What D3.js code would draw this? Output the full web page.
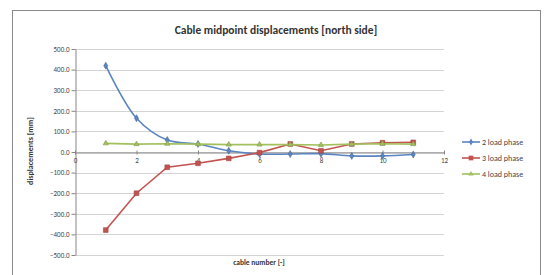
<!DOCTYPE html>
<html>
<head>
<meta charset="utf-8">
<script src="https://cdn.jsdelivr.net/npm/d3@7"></script>
<style>
  body { margin: 0; background: #fff; }
  text { font-family: Carlito, "Liberation Sans", Arial, sans-serif; }
</style>
</head>
<body>
<div id="chart"></div>
<script>
// cable numbers and displacement values
var cables = [1, 2, 3, 4, 5, 6, 7, 8, 9, 10, 11];
var phase2 = [419, 164, 58, 39, 6, -10, -10, -8, -19, -19, -12];
var phase3 = [-379, -200, -74, -55, -31, -3, 39, 6, 39, 45, 47];
var phase4 = [42, 38, 40, 38, 36, 36, 36, 34, 38, 40, 38];
var seriesNames = ["2 load phase", "3 load phase", "4 load phase"];
var xTicks = [0, 2, 4, 6, 8, 10, 12];
var yTicks = [500, 400, 300, 200, 100, 0, -100, -200, -300, -400, -500];

var W = 546, H = 275;
var svg = d3.select("#chart").append("svg")
  .attr("width", W)
  .attr("height", H);

// chart frame
svg.append("rect")
  .attr("x", 12.5).attr("y", 10.5)
  .attr("width", 528).attr("height", 280)
  .attr("fill", "#fff")
  .attr("stroke", "#8a8a8a")
  .attr("stroke-width", 1);

var x = d3.scaleLinear().domain([0, 12]).range([75, 444]);
var y = d3.scaleLinear().domain([-500, 500]).range([255, 49]);

// gridlines
svg.append("g").selectAll("line")
  .data(yTicks)
  .enter().append("line")
  .attr("x1", x(0)).attr("x2", x(12))
  .attr("y1", function(d){ return Math.round(y(d)) + 0.5; })
  .attr("y2", function(d){ return Math.round(y(d)) + 0.5; })
  .attr("stroke", "#d4d4d4")
  .attr("stroke-width", 1);

// y axis
var yAxis = svg.append("g")
  .attr("transform", "translate(" + (x(0) + 0.5) + ",0)")
  .call(d3.axisLeft(y).tickValues(yTicks).tickSize(4).tickSizeOuter(0)
    .tickFormat(function(d){ return d3.format(".1f")(d); }));
yAxis.select(".domain").attr("stroke", "#868686");
yAxis.selectAll(".tick line").attr("stroke", "#868686");
yAxis.selectAll("text").attr("font-size", "7px").attr("fill", "#444").attr("x", -6);

// x axis crossing at zero
var xAxis = svg.append("g")
  .attr("transform", "translate(0," + (Math.round(y(0)) + 0.5) + ")")
  .call(d3.axisBottom(x).tickValues(xTicks).tickSize(4).tickSizeOuter(0));
xAxis.select(".domain").attr("stroke", "#868686");
xAxis.selectAll(".tick line").attr("stroke", "#868686").attr("y1", -2).attr("y2", 2);
xAxis.selectAll("text").attr("font-size", "7px").attr("fill", "#444").attr("y", 6);

// titles
svg.append("text")
  .attr("x", 276).attr("y", 34)
  .attr("text-anchor", "middle")
  .attr("font-size", "11.5px").attr("font-weight", "bold").attr("fill", "#333")
  .text("Cable midpoint displacements [north side]");

svg.append("text")
  .attr("transform", "translate(33,151) rotate(-90)")
  .attr("text-anchor", "middle")
  .attr("font-size", "8px").attr("font-weight", "bold").attr("fill", "#333")
  .text("displacements [mm]");

svg.append("text")
  .attr("x", 259).attr("y", 265)
  .attr("text-anchor", "middle")
  .attr("font-size", "7.5px").attr("font-weight", "bold").attr("fill", "#333")
  .text("cable number [-]");

// series
var series = [
  { name: seriesNames[0], values: phase2, color: "#5a85c0", marker: d3.symbolDiamond, size: 14, curve: d3.curveCatmullRom.alpha(0.5) },
  { name: seriesNames[1], values: phase3, color: "#c4534f", marker: d3.symbolSquare, size: 22, curve: d3.curveLinear },
  { name: seriesNames[2], values: phase4, color: "#a2c05e", marker: d3.symbolTriangle, size: 12, curve: d3.curveLinear }
];

series.forEach(function(s){
  var pts = cables.map(function(c, i){ return [c, s.values[i]]; });
  var line = d3.line()
    .x(function(d){ return x(d[0]); })
    .y(function(d){ return y(d[1]); })
    .curve(s.curve);
  svg.append("path")
    .attr("d", line(pts))
    .attr("fill", "none")
    .attr("stroke", s.color)
    .attr("stroke-width", 1.6);
  svg.append("g").selectAll("path")
    .data(pts)
    .enter().append("path")
    .attr("transform", function(d){ return "translate(" + x(d[0]) + "," + y(d[1]) + ")"; })
    .attr("d", d3.symbol().type(s.marker).size(s.size))
    .attr("fill", s.color)
    .attr("stroke", d3.color(s.color).darker(0.6))
    .attr("stroke-width", 0.6);
});

// legend
var legend = svg.append("g");
series.forEach(function(s, i){
  var ly = 142 + i * 16;
  legend.append("line")
    .attr("x1", 462).attr("x2", 480)
    .attr("y1", ly).attr("y2", ly)
    .attr("stroke", s.color).attr("stroke-width", 1.6);
  legend.append("path")
    .attr("transform", "translate(471," + ly + ")")
    .attr("d", d3.symbol().type(s.marker).size(s.size))
    .attr("fill", s.color);
  legend.append("text")
    .attr("x", 482).attr("y", ly + 2.5)
    .attr("font-size", "8px").attr("fill", "#444")
    .text(s.name);
});
</script>
</body>
</html>
